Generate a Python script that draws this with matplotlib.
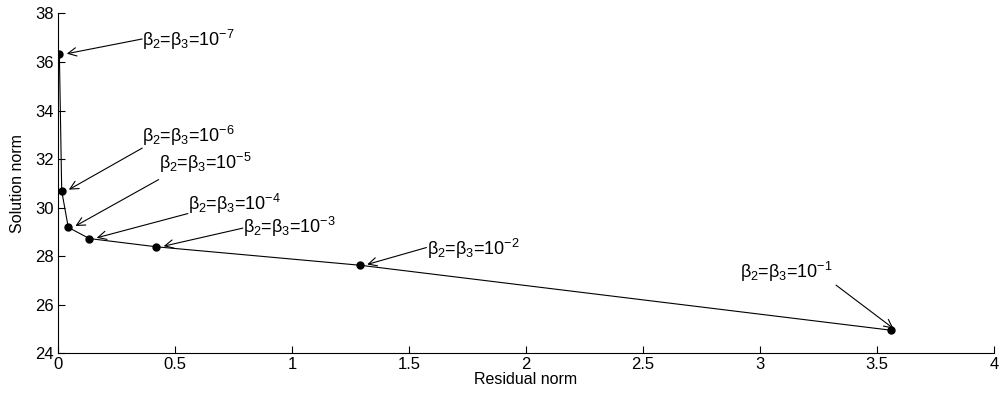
import matplotlib
matplotlib.use("Agg")
import matplotlib.pyplot as plt

plt.rcParams["font.family"] = ["Liberation Sans", "DejaVu Sans"]
plt.rcParams["mathtext.fontset"] = "custom"
plt.rcParams["mathtext.rm"] = "Liberation Sans"
plt.rcParams["mathtext.it"] = "Liberation Sans"

# L-curve points (residual norm, solution norm)
residual_norm = [0.006, 0.016, 0.044, 0.134, 0.42, 1.29, 3.56]
solution_norm = [36.32, 30.68, 29.18, 28.72, 28.38, 27.62, 24.94]
exponents = [-7, -6, -5, -4, -3, -2, -1]

# label text positions (data coords) and arrow tails
label_x = [0.36, 0.36, 0.43, 0.555, 0.79, 1.575, 2.915]
label_y = [36.9, 32.95, 31.85, 30.15, 29.20, 28.3, 27.35]
tail_x = [0.36, 0.36, 0.43, 0.555, 0.79, 1.575, 3.325]
tail_y = [36.95, 32.45, 31.15, 29.75, 29.15, 28.35, 26.8]

fig = plt.figure(figsize=(10.03, 3.97), dpi=100)
ax = fig.add_axes([0.0578, 0.1108, 0.9332, 0.8552])

ax.plot(residual_norm, solution_norm, color="black", linewidth=0.8)
ax.plot(residual_norm, solution_norm, "o", color="black", markersize=5)

for i, e in enumerate(exponents):
    txt = r"$\beta_2$=$\beta_3$=10$^{%d}$" % e
    ax.annotate("", xy=(residual_norm[i] + 0.02, solution_norm[i]),
                xytext=(tail_x[i], tail_y[i]),
                arrowprops=dict(arrowstyle="->", color="black", lw=0.8,
                                shrinkA=0, shrinkB=2, mutation_scale=15))
    ax.text(label_x[i], label_y[i], txt, fontsize=13, ha="left", va="center")

ax.set_xlim(0, 4)
ax.set_ylim(24, 38)
ax.set_xticks([0, 0.5, 1, 1.5, 2, 2.5, 3, 3.5, 4])
ax.set_xticklabels(["0", "0.5", "1", "1.5", "2", "2.5", "3", "3.5", "4"])
ax.set_yticks([24, 26, 28, 30, 32, 34, 36, 38])
ax.tick_params(direction="in", length=5, labelsize=12, width=0.8, pad=3)
ax.spines["top"].set_visible(False)
ax.spines["right"].set_visible(False)
ax.set_xlabel("Residual norm", fontsize=11.5, labelpad=0)
ax.set_ylabel("Solution norm", fontsize=11.5, labelpad=7)

fig.savefig("out.png", dpi=100)
